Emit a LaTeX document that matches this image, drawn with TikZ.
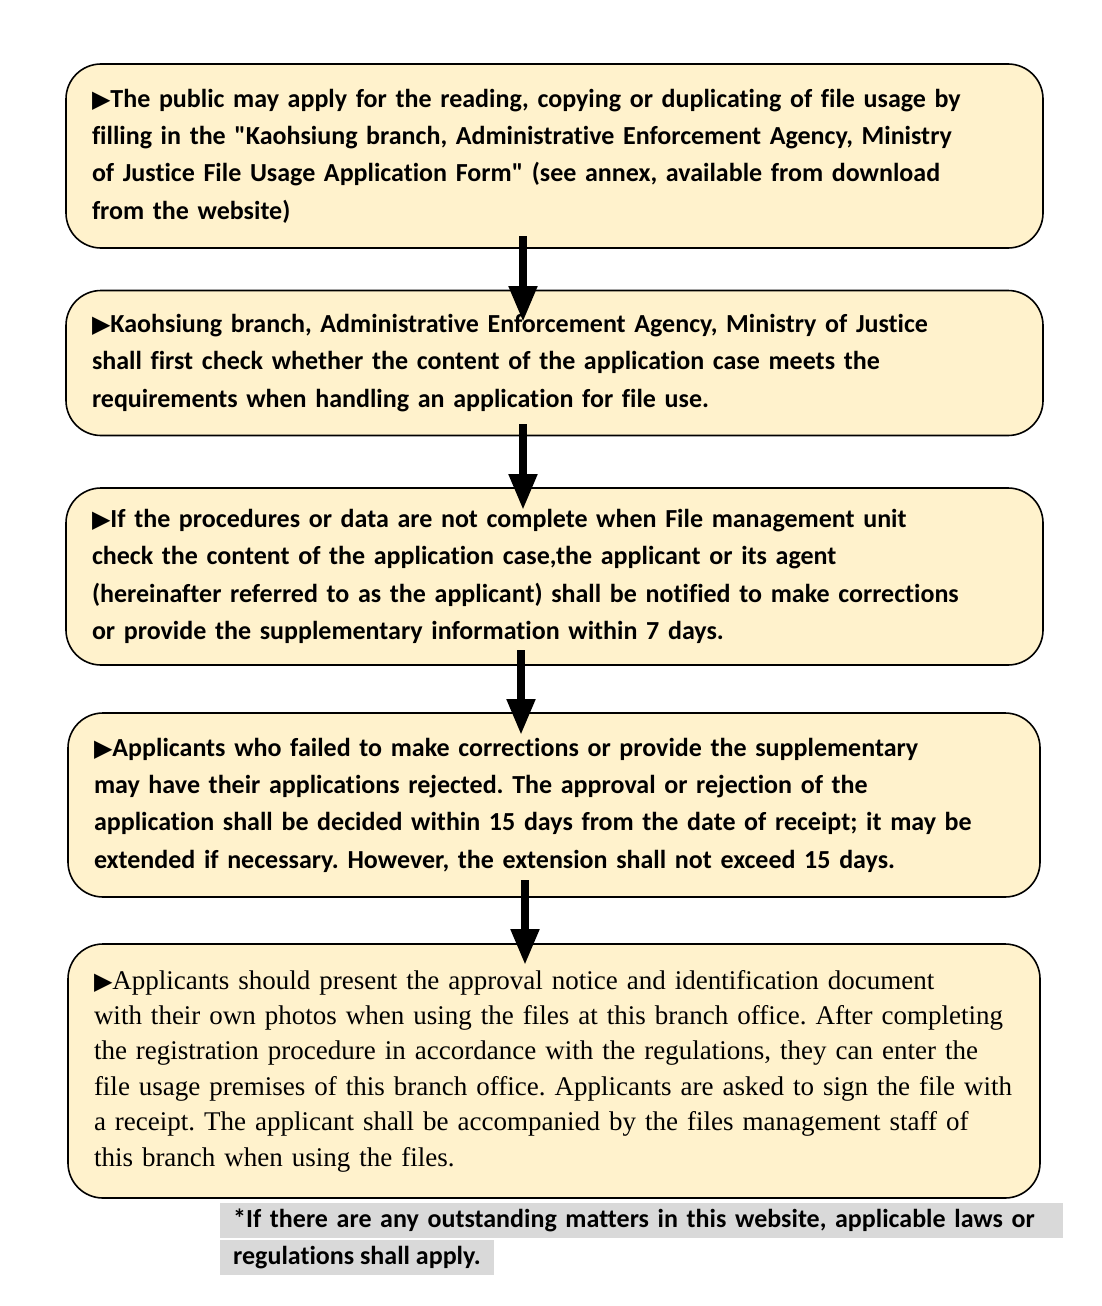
\documentclass[tikz,border=0pt]{standalone}
\usepackage{fontspec}
\setmainfont{Carlito}[Ligatures={TeXOff,NoCommon}]
\newfontfamily\serifbox{Liberation Serif}[Ligatures={TeXOff,NoCommon}]
\newfontfamily\symfont{DejaVu Sans}
\usetikzlibrary{arrows.meta}
\definecolor{boxfill}{HTML}{FFF2CC}
\definecolor{bandgray}{HTML}{D9D9D9}
\newcommand{\tri}{{\symfont\fontsize{24}{24}\selectfont ▶}}
\frenchspacing
\tikzset{
  stepbox/.style={draw=black, line width=1.6pt, fill=boxfill, rounded corners=35pt,
    inner xsep=26pt, inner ysep=0pt, align=left, text width=#1,
    font=\fontsize{26}{37.3}\selectfont\bfseries},
  flow/.style={line width=8pt, -{Triangle[width=27pt,length=36pt]}},
  noteband/.style={fill=bandgray, inner xsep=13pt, inner ysep=0pt, minimum height=35pt,
    anchor=west, align=left, font=\fontsize{26}{30}\selectfont\bfseries}
}

\begin{document}
\begin{tikzpicture}[x=1pt,y=-1pt]
        \useasboundingbox (0,0) rectangle (1102,1306);
        \node (s1) [stepbox=925pt, minimum height=184pt] at (554.5,156) {\tri The public may apply for the reading, copying or duplicating of file usage by\\
filling in the "Kaohsiung branch, Administrative Enforcement Agency, Ministry\\
of Justice File Usage Application Form" (see annex, available from download\\
from the website)};
        \node (s2) [stepbox=925pt, minimum height=145pt] at (554.5,363) {\tri Kaohsiung branch, Administrative Enforcement Agency, Ministry of Justice\\
shall first check whether the content of the application case meets the\\
requirements when handling an application for file use.};
        \node (s3) [stepbox=925pt, minimum height=177pt] at (554.5,576.5) {\tri If the procedures or data are not complete when File management unit\\
check the content of the application case,the applicant or its agent\\
(hereinafter referred to as the applicant) shall be notified to make corrections\\
or provide the supplementary information within 7 days.};
        \node (s4) [stepbox=920pt, minimum height=184pt] at (554,805) {\tri Applicants who failed to make corrections or provide the supplementary\\
may have their applications rejected. The approval or rejection of the\\
application shall be decided within 15 days from the date of receipt; it may be\\
extended if necessary. However, the extension shall not exceed 15 days.};
        \node (s5) [stepbox=920pt, minimum height=254pt, font=\serifbox\fontsize{27}{35.4}\selectfont] at (554,1071) {\tri Applicants should present the approval notice and identification document\\
with their own photos when using the files at this branch office. After completing\\
the registration procedure in accordance with the regulations, they can enter the\\
file usage premises of this branch office. Applicants are asked to sign the file with\\
a receipt. The applicant shall be accompanied by the files management staff of\\
this branch when using the files.};
        % arrows between the steps
        \coordinate (a1) at (523,236);
        \coordinate (b1) at (523,322);
        \coordinate (a2) at (523,424);
        \coordinate (b2) at (523,510);
        \coordinate (a3) at (521,650);
        \coordinate (b3) at (521,735);
        \coordinate (a4) at (525,880);
        \coordinate (b4) at (525,965);
        \draw[flow] (a1) -- (b1);
        \draw[flow] (a2) -- (b2);
        \draw[flow] (a3) -- (b3);
        \draw[flow] (a4) -- (b4);
        % note under the chart
        \node (n1) [noteband, text width=817pt] at (220,1220.5) {*If there are any outstanding matters in this website, applicable laws or};
        \node (n2) [noteband] at (220,1257.5) {regulations shall apply.};
\end{tikzpicture}
\end{document}
